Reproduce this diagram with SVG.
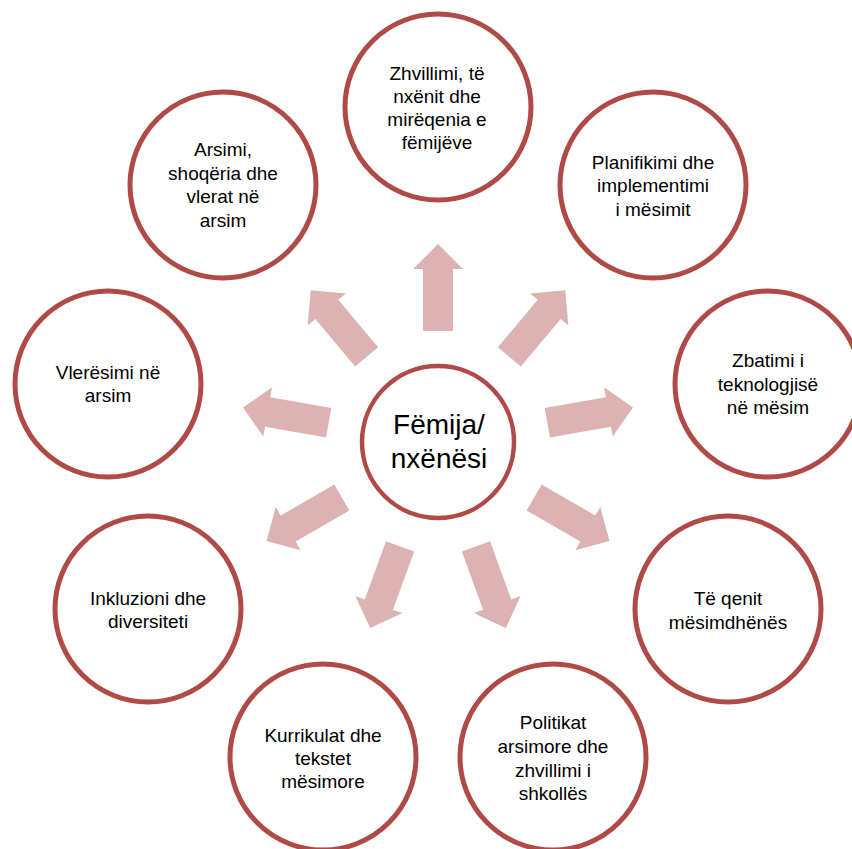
<svg xmlns="http://www.w3.org/2000/svg" xmlns:xlink="http://www.w3.org/1999/xlink" width="852" height="849" viewBox="0 0 852 849">
<style>
.node circle{fill:#fff;stroke:#AF4A47;stroke-width:5}
.hub circle{stroke-width:4.5}
text{font-family:"Liberation Sans",Arial,sans-serif;font-size:19px;fill:#000;text-anchor:middle}
.hub text{font-size:28px}
.arrow{fill:#DDB2B2}
</style>
<defs>
<polygon id="arr" class="arrow" points="111,-15 173,-15 173,-25 198,0 173,25 173,15 111,15"/>
</defs>
<rect width="852" height="849" fill="#fff"/>
<g id="connectors">
<use xlink:href="#arr" transform="translate(438 442) rotate(-90)"/>
<use xlink:href="#arr" transform="translate(438 442) rotate(-50)"/>
<use xlink:href="#arr" transform="translate(438 442) rotate(-10)"/>
<use xlink:href="#arr" transform="translate(438 442) rotate(30)"/>
<use xlink:href="#arr" transform="translate(438 442) rotate(70)"/>
<use xlink:href="#arr" transform="translate(438 442) rotate(110)"/>
<use xlink:href="#arr" transform="translate(438 442) rotate(150)"/>
<use xlink:href="#arr" transform="translate(438 442) rotate(190)"/>
<use xlink:href="#arr" transform="translate(438 442) rotate(230)"/>
</g>
<g id="hub" class="node hub">
<circle cx="438" cy="442" r="76"/>
<text x="439" y="434">Fëmija/</text>
<text x="439" y="468">nxënësi</text>
</g>
<g id="n-top" class="node">
<circle cx="438" cy="107" r="93"/>
<text x="437" y="80">Zhvillimi, të</text>
<text x="437" y="103">nxënit dhe</text>
<text x="437" y="126">mirëqenia e</text>
<text x="437" y="149">fëmijëve</text>
</g>
<g id="n-upright" class="node">
<circle cx="653" cy="185" r="93"/>
<text x="653" y="169">Planifikimi dhe</text>
<text x="653" y="192">implementimi</text>
<text x="653" y="216">i mësimit</text>
</g>
<g id="n-right" class="node">
<circle cx="768" cy="384" r="93"/>
<text x="768" y="367">Zbatimi i</text>
<text x="768" y="391">teknologjisë</text>
<text x="768" y="414">në mësim</text>
</g>
<g id="n-lowright" class="node">
<circle cx="728" cy="609" r="93"/>
<text x="728" y="605">Të qenit</text>
<text x="728" y="629">mësimdhënës</text>
</g>
<g id="n-bottomright" class="node">
<circle cx="553" cy="757" r="93"/>
<text x="553" y="729">Politikat</text>
<text x="553" y="753">arsimore dhe</text>
<text x="553" y="777">zhvillimi i</text>
<text x="553" y="800">shkollës</text>
</g>
<g id="n-bottomleft" class="node">
<circle cx="323" cy="757" r="93"/>
<text x="323" y="742">Kurrikulat dhe</text>
<text x="323" y="765">tekstet</text>
<text x="323" y="788">mësimore</text>
</g>
<g id="n-lowleft" class="node">
<circle cx="148" cy="609" r="93"/>
<text x="148" y="605">Inkluzioni dhe</text>
<text x="148" y="628">diversiteti</text>
</g>
<g id="n-left" class="node">
<circle cx="108" cy="384" r="93"/>
<text x="108" y="379">Vlerësimi në</text>
<text x="108" y="402">arsim</text>
</g>
<g id="n-upleft" class="node">
<circle cx="223" cy="185" r="93"/>
<text x="223" y="156">Arsimi,</text>
<text x="223" y="180">shoqëria dhe</text>
<text x="223" y="203">vlerat në</text>
<text x="223" y="227">arsim</text>
</g>
</svg>
